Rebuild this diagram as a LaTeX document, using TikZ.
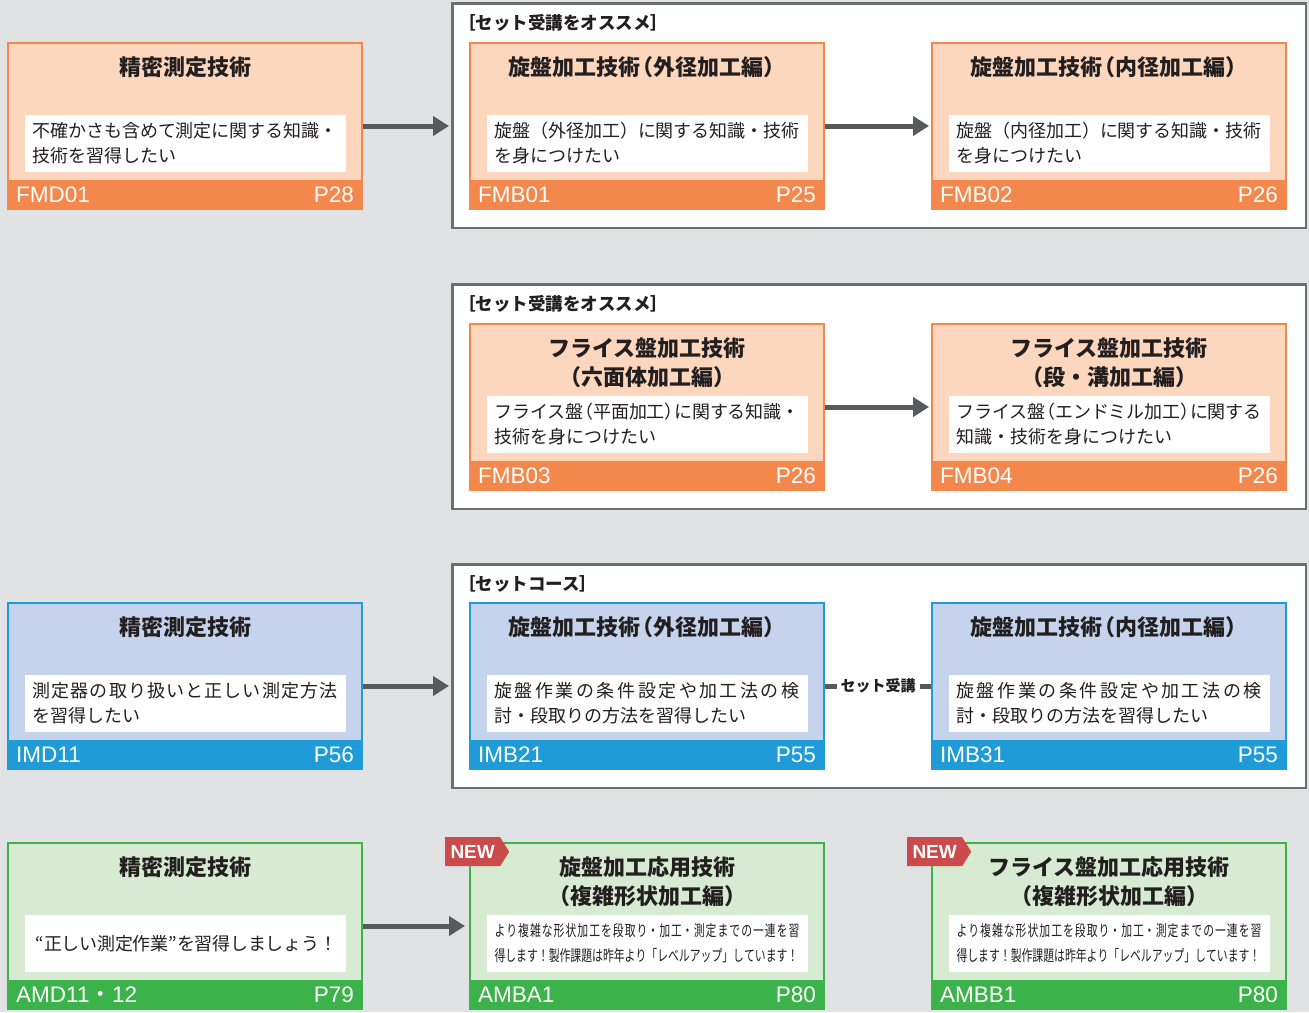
\documentclass[tikz,border=0pt]{standalone}
\usepackage{fontspec}
\setmainfont{Noto Sans CJK JP}
\newfontfamily\latinfont{Liberation Sans}
\newfontfamily\cjkcond[FakeStretch=0.7]{Noto Sans CJK JP}
\XeTeXlinebreaklocale "ja"
\XeTeXlinebreakskip=0pt plus 3pt minus 0.3pt
\usetikzlibrary{arrows.meta,shapes.symbols}

\definecolor{bggray}{HTML}{E1E2E4}
\definecolor{framegray}{HTML}{6D6E70}
\definecolor{arrowgray}{HTML}{58595B}
\definecolor{ink}{HTML}{231F20}
\definecolor{orline}{HTML}{F4874B}
\definecolor{orfill}{HTML}{FCD7BE}
\definecolor{blline}{HTML}{1F9BD7}
\definecolor{blfill}{HTML}{C5D4EC}
\definecolor{grline}{HTML}{3BB34A}
\definecolor{grfill}{HTML}{D7EAD2}
\definecolor{newred}{HTML}{CB4A4C}

\tikzset{
    setframe/.style={draw=framegray, line width=2.5pt, fill=white, minimum width=853.5pt, inner sep=0pt},
    setlabel/.style={anchor=west, inner sep=0pt, text=ink, font=\fontsize{17.5}{20}\selectfont\bfseries},
    course/.style={line width=2pt, minimum width=354pt, minimum height=166pt, inner sep=0pt},
    codebar/.style={minimum width=356pt, minimum height=30pt, inner sep=0pt, outer sep=0pt, anchor=south},
    title/.style={anchor=north, align=center, inner sep=0pt, text=ink, font=\fontsize{22}{29}\selectfont\bfseries},
    bodybox/.style={fill=white, text width=305pt, inner xsep=8pt, inner ysep=0pt, minimum height=57pt, align=justify, text=ink, font=\fontsize{18}{25}\selectfont},
    code/.style={inner sep=0pt, text=white, font=\latinfont\fontsize{22.5}{24}\selectfont},
    arrowline/.style={line width=5pt, draw=arrowgray, -{Triangle[length=16pt,width=19pt]}},
    setlink/.style={line width=5pt, draw=arrowgray},
    linklabel/.style={fill=white, inner xsep=4pt, text=ink, font=\fontsize{15}{17}\selectfont\bfseries},
    newtag/.style={shape=signal, signal to=east, signal pointer angle=116, fill=newred, text=white, minimum width=64pt, minimum height=29pt, inner sep=0pt, font=\latinfont\bfseries\fontsize{19}{20}\selectfont}
}

% narrow brackets
\newcommand{\lp}{\kern-.45em（}
\newcommand{\rp}{）\kern-.45em}

% one course card: name, colour, left, top, title, text, code, page
\newcommand{\course}[8]{%
    \node[course, draw=#2line, fill=#2fill] (#1) at (#3+178,#4+84) {};
    \node[codebar, fill=#2line] (#1bar) at (#1.south) {};
    \node[title] (#1title) at (#3+178,#4+14) {#5};
    \node[bodybox] (#1body) at (#3+178,#4+101.5) {#6};
    \node[code, anchor=west] (#1code) at ([xshift=9pt]#1bar.west) {#7};
    \node[code, anchor=east] (#1page) at ([xshift=-9pt]#1bar.east) {#8};
}

\begin{document}
\begin{tikzpicture}[x=1pt, y=-1pt]
    % Background
    \fill[bggray] (0,0) rectangle (1309,1012);
    \useasboundingbox (0,0) rectangle (1309,1012);

    % Set frames
    \node[setframe, minimum height=224.5pt] (set1) at (879,115.5) {};
    \node[setframe, minimum height=224.5pt] (set2) at (879,396.5) {};
    \node[setframe, minimum height=223.5pt] (set3) at (879,676) {};
    \node[setlabel] (set1label) at ([xshift=7pt, yshift=-21pt]set1.north west) {［セット受講をオススメ］};
    \node[setlabel] (set2label) at ([xshift=7pt, yshift=-21pt]set2.north west) {［セット受講をオススメ］};
    \node[setlabel] (set3label) at ([xshift=7pt, yshift=-21pt]set3.north west) {［セットコース］};

    % Orange row
    \course{fmd01}{or}{7}{42}{精密測定技術}{不確かさも含めて測定に関する知識・\linebreak 技術を習得したい}{FMD01}{P28}
    \course{fmb01}{or}{469}{42}{旋盤加工技術\lp 外径加工編）}{旋盤（外径加工）に関する知識・技術\linebreak を身につけたい}{FMB01}{P25}
    \course{fmb02}{or}{931}{42}{旋盤加工技術\lp 内径加工編）}{旋盤（内径加工）に関する知識・技術\linebreak を身につけたい}{FMB02}{P26}
    \course{fmb03}{or}{469}{323}{フライス盤加工技術\\（六面体加工編）}{フライス盤\lp 平面加工\rp に関する知識・\linebreak 技術を身につけたい}{FMB03}{P26}
    \course{fmb04}{or}{931}{323}{フライス盤加工技術\\（段・溝加工編）}{フライス盤\lp エンドミル加工\rp に関する\linebreak 知識・技術を身につけたい}{FMB04}{P26}

    % Blue row
    \course{imd11}{bl}{7}{602}{精密測定技術}{測定器の取り扱いと正しい測定方法\linebreak を習得したい}{IMD11}{P56}
    \course{imb21}{bl}{469}{602}{旋盤加工技術\lp 外径加工編）}{旋盤作業の条件設定や加工法の検\linebreak 討・段取りの方法を習得したい}{IMB21}{P55}
    \course{imb31}{bl}{931}{602}{旋盤加工技術\lp 内径加工編）}{旋盤作業の条件設定や加工法の検\linebreak 討・段取りの方法を習得したい}{IMB31}{P55}

    % Green row
    \course{amd11}{gr}{7}{842}{精密測定技術}{\hspace*{3pt}“正しい測定作業”を習得しましょう！}{AMD11{\rmfamily ・}12}{P79}
    \course{amba1}{gr}{469}{842}{旋盤加工応用技術\\（複雑形状加工編）}{\fontsize{15.5}{25}\selectfont\cjkcond より複雑な形状加工を段取り・加工・測定までの一連を習\linebreak 得します！製作課題は昨年より「レベルアップ」しています！}{AMBA1}{P80}
    \course{ambb1}{gr}{931}{842}{フライス盤加工応用技術\\（複雑形状加工編）}{\fontsize{15.5}{25}\selectfont\cjkcond より複雑な形状加工を段取り・加工・測定までの一連を習\linebreak 得します！製作課題は昨年より「レベルアップ」しています！}{AMBB1}{P80}

    % Arrows
    \draw[arrowline, shorten >=2pt] (fmd01.east) -- (fmd01.east -| set1.west);
    \draw[arrowline, shorten >=2pt] (fmb01.east) -- (fmb02.west);
    \draw[arrowline, shorten >=2pt] (fmb03.east) -- (fmb04.west);
    \draw[arrowline, shorten >=2pt] (imd11.east) -- (imd11.east -| set3.west);
    \draw[arrowline, shorten >=4pt] (amd11.east) -- (amba1.west);
    \draw[setlink] (imb21.east) -- node[linklabel] (link) {セット受講} (imb31.west);

    % NEW tags
    \node[newtag, anchor=north west] (newa) at ([xshift=-24pt, yshift=5pt]amba1.north west) {NEW};
    \node[newtag, anchor=north west] (newb) at ([xshift=-24pt, yshift=5pt]ambb1.north west) {NEW};
\end{tikzpicture}
\end{document}
